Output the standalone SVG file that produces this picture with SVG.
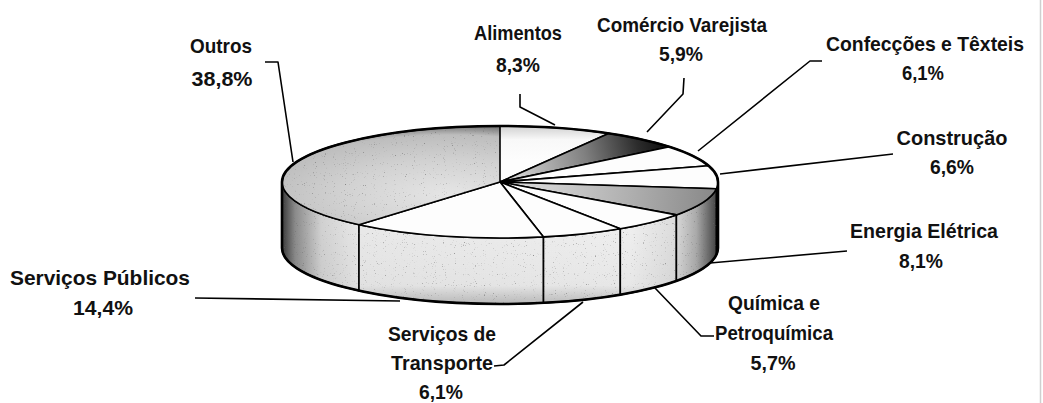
<svg xmlns="http://www.w3.org/2000/svg" width="1043" height="403" viewBox="0 0 1043 403">
<defs>
  <style>
    text { font-family: "Liberation Sans", Arial, sans-serif; font-weight: bold; font-size: 20.5px; fill: #111; text-anchor: middle; }
    .top { stroke: #000; stroke-width: 1.6; stroke-linejoin: round; }
    .side { stroke: #000; stroke-width: 1.6; stroke-linejoin: round; fill: url(#sideGrad); }
    .lead { fill: none; stroke: #000; stroke-width: 1.6; stroke-linejoin: round; }
    .rim { fill: none; stroke: #000; stroke-width: 2.6; stroke-linejoin: round; }
  </style>
  <linearGradient id="sideGrad" gradientUnits="userSpaceOnUse" x1="282" y1="0" x2="718" y2="0">
    <stop offset="0" stop-color="#3a3a3a"/>
    <stop offset="0.03" stop-color="#8a8a8a"/>
    <stop offset="0.09" stop-color="#d0d0d0"/>
    <stop offset="0.18" stop-color="#e8e8e8"/>
    <stop offset="0.8" stop-color="#eeeeee"/>
    <stop offset="0.9" stop-color="#dcdcdc"/>
    <stop offset="0.95" stop-color="#aaaaaa"/>
    <stop offset="1" stop-color="#3c3c3c"/>
  </linearGradient>
  <linearGradient id="sideShade" gradientUnits="userSpaceOnUse" x1="0" y1="230" x2="0" y2="304">
    <stop offset="0" stop-color="#000" stop-opacity="0"/>
    <stop offset="0.75" stop-color="#000" stop-opacity="0.03"/>
    <stop offset="1" stop-color="#000" stop-opacity="0.22"/>
  </linearGradient>
  <radialGradient id="outrosGrad" gradientUnits="userSpaceOnUse" cx="450" cy="195" r="235" gradientTransform="translate(450 195) scale(1 0.32) translate(-450 -195)">
    <stop offset="0" stop-color="#e6e6e6"/>
    <stop offset="0.45" stop-color="#d2d2d2"/>
    <stop offset="0.8" stop-color="#bdbdbd"/>
    <stop offset="1" stop-color="#4a4a4a"/>
  </radialGradient>
  <linearGradient id="comGrad" gradientUnits="userSpaceOnUse" x1="520" y1="178" x2="668" y2="142">
    <stop offset="0" stop-color="#d0d0d0"/>
    <stop offset="0.45" stop-color="#808080"/>
    <stop offset="0.8" stop-color="#2c2c2c"/>
    <stop offset="1" stop-color="#0c0c0c"/>
  </linearGradient>
  <linearGradient id="energGrad" gradientUnits="userSpaceOnUse" x1="540" y1="186" x2="716" y2="200">
    <stop offset="0" stop-color="#d4d4d4"/>
    <stop offset="0.5" stop-color="#b0b0b0"/>
    <stop offset="1" stop-color="#888888"/>
  </linearGradient>
  <linearGradient id="aliGrad" gradientUnits="userSpaceOnUse" x1="0" y1="126" x2="0" y2="160">
    <stop offset="0" stop-color="#d0d0d0"/>
    <stop offset="0.4" stop-color="#f8f8f8"/>
    <stop offset="1" stop-color="#fdfdfd"/>
  </linearGradient>
  <filter id="grain" x="0%" y="0%" width="100%" height="100%" color-interpolation-filters="sRGB">
    <feTurbulence type="fractalNoise" baseFrequency="0.9" numOctaves="1" seed="7" result="noise"/>
    <feColorMatrix in="noise" type="matrix" values="0 0 0 0 0.4  0 0 0 0 0.4  0 0 0 0 0.4  4 0 0 0 -2.65" result="specks"/>
    <feComposite in="specks" in2="SourceAlpha" operator="in" result="clip"/>
    <feMerge><feMergeNode in="SourceGraphic"/><feMergeNode in="clip"/></feMerge>
  </filter>
</defs>

<rect x="0" y="0" width="1043" height="403" fill="#fff"/>
<line x1="1040.5" y1="0" x2="1040.5" y2="403" stroke="#cfcfcf" stroke-width="1.5"/>

<g id="pie">
  <g id="sides" filter="url(#grain)">
    <path class="side" d="M282,182 A218,56 0 0 0 359,224.7 L359,290.7 A218,56 0 0 1 282,248 Z"/>
    <path class="side" d="M359,224.7 A218,56 0 0 0 543.5,236.9 L543.5,302.9 A218,56 0 0 1 359,290.7 Z"/>
    <path class="side" d="M543.5,236.9 A218,56 0 0 0 620.3,228.7 L620.3,294.7 A218,56 0 0 1 543.5,302.9 Z"/>
    <path class="side" d="M620.3,228.7 A218,56 0 0 0 676.4,214.9 L676.4,280.9 A218,56 0 0 1 620.3,294.7 Z"/>
    <path class="side" d="M676.4,214.9 A218,56 0 0 0 716.5,188.7 L716.5,254.7 A218,56 0 0 1 676.4,280.9 Z"/>
    <path class="side" d="M716.5,188.7 A218,56 0 0 0 718,182 L718,248 A218,56 0 0 1 716.5,254.7 Z"/>
    <path d="M282,182 A218,56 0 0 0 718,182 L718,248 A218,56 0 0 1 282,248 Z" fill="url(#sideShade)" stroke="none"/>
  </g>
  <g id="slice-alimentos"><path class="top" fill="url(#aliGrad)" d="M500,182 L500,126 A218,56 0 0 1 608.6,133.4 Z"/></g>
  <g id="slice-comercio"><path class="top" fill="url(#comGrad)" d="M500,182 L608.6,133.4 A218,56 0 0 1 669.7,146.8 Z"/></g>
  <g id="slice-confeccoes"><path class="top" fill="#fdfdfd" d="M500,182 L669.7,146.8 A218,56 0 0 1 708.6,165.7 Z"/></g>
  <g id="slice-construcao"><path class="top" fill="#fdfdfd" d="M500,182 L708.6,165.7 A218,56 0 0 1 716.5,188.7 Z"/></g>
  <g id="slice-energia"><path class="top" fill="url(#energGrad)" d="M500,182 L716.5,188.7 A218,56 0 0 1 676.4,214.9 Z"/></g>
  <g id="slice-quimica"><path class="top" fill="#fdfdfd" d="M500,182 L676.4,214.9 A218,56 0 0 1 620.3,228.7 Z"/></g>
  <g id="slice-transporte"><path class="top" fill="#fdfdfd" d="M500,182 L620.3,228.7 A218,56 0 0 1 543.5,236.9 Z"/></g>
  <g id="slice-publicos"><path class="top" fill="#fdfdfd" d="M500,182 L543.5,236.9 A218,56 0 0 1 359,224.7 Z"/></g>
  <g id="slice-outros" filter="url(#grain)"><path class="top" fill="url(#outrosGrad)" d="M500,182 L359,224.7 A218,56 0 0 1 500,126 Z"/></g>
  <path class="rim" d="M282,182 A218,56 0 0 1 718,182 L718,248 A218,56 0 0 1 282,248 Z"/>
</g>

<g id="connectors">
  <polyline class="lead" points="265,62 278,62 293,162"/>
  <polyline class="lead" points="520,94 520,107 555,125"/>
  <polyline class="lead" points="684,78 683,94 647,132"/>
  <polyline class="lead" points="822,61 810,61 698,151"/>
  <polyline class="lead" points="893,154 720,174"/>
  <polyline class="lead" points="847,251 710,263"/>
  <polyline class="lead" points="714,336 701,336 655,288"/>
  <polyline class="lead" points="494,366 504,365 583,302"/>
  <polyline class="lead" points="195,298 400,301"/>
</g>

<g id="label-outros">
  <text x="221" y="53" textLength="62" lengthAdjust="spacingAndGlyphs">Outros</text>
  <text x="222" y="86" textLength="61" lengthAdjust="spacingAndGlyphs">38,8%</text>
</g>
<g id="label-alimentos">
  <text x="518" y="40" textLength="88" lengthAdjust="spacingAndGlyphs">Alimentos</text>
  <text x="518" y="72" textLength="44" lengthAdjust="spacingAndGlyphs">8,3%</text>
</g>
<g id="label-comercio">
  <text x="682" y="32" textLength="170" lengthAdjust="spacingAndGlyphs">Comércio Varejista</text>
  <text x="681" y="61" textLength="44" lengthAdjust="spacingAndGlyphs">5,9%</text>
</g>
<g id="label-confeccoes">
  <text x="925" y="51" textLength="198" lengthAdjust="spacingAndGlyphs">Confecções e Têxteis</text>
  <text x="923" y="80" textLength="42" lengthAdjust="spacingAndGlyphs">6,1%</text>
</g>
<g id="label-construcao">
  <text x="952" y="145" textLength="111" lengthAdjust="spacingAndGlyphs">Construção</text>
  <text x="952" y="174" textLength="44" lengthAdjust="spacingAndGlyphs">6,6%</text>
</g>
<g id="label-energia">
  <text x="924" y="238" textLength="148" lengthAdjust="spacingAndGlyphs">Energia Elétrica</text>
  <text x="921" y="268" textLength="44" lengthAdjust="spacingAndGlyphs">8,1%</text>
</g>
<g id="label-quimica">
  <text x="774" y="310" textLength="92" lengthAdjust="spacingAndGlyphs">Química e</text>
  <text x="774" y="340" textLength="118" lengthAdjust="spacingAndGlyphs">Petroquímica</text>
  <text x="773" y="370" textLength="45" lengthAdjust="spacingAndGlyphs">5,7%</text>
</g>
<g id="label-transporte">
  <text x="442" y="341" textLength="108" lengthAdjust="spacingAndGlyphs">Serviços de</text>
  <text x="442" y="370" textLength="102" lengthAdjust="spacingAndGlyphs">Transporte</text>
  <text x="441" y="399" textLength="44" lengthAdjust="spacingAndGlyphs">6,1%</text>
</g>
<g id="label-publicos">
  <text x="100" y="285" textLength="180" lengthAdjust="spacingAndGlyphs">Serviços Públicos</text>
  <text x="103" y="315" textLength="60" lengthAdjust="spacingAndGlyphs">14,4%</text>
</g>
</svg>
